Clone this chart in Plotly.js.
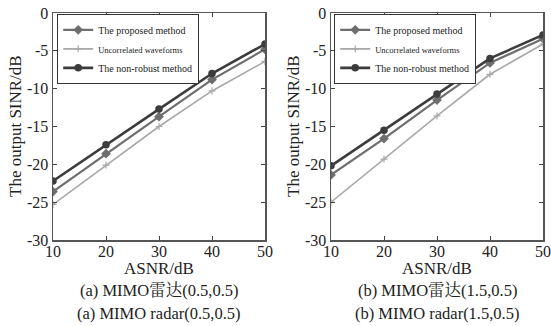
<!DOCTYPE html>
<html><head><meta charset="utf-8">
<script src="https://cdn.plot.ly/plotly-3.0.1.min.js"></script>
<style>html,body{margin:0;padding:0;background:#fff}#c{width:551px;height:326px}</style>
</head><body><div id="c"></div>
<script>
const asnr = [10, 20, 30, 40, 50];
const names = ['The proposed method', 'Uncorrelated waveforms', 'The non-robust method'];
// (a) MIMO radar (0.5,0.5)
const aProposed = [-23.6, -18.6, -13.7, -8.8, -4.8];
const aUncorr   = [-25.3, -20.1, -15.0, -10.3, -6.4];
const aNonRobust= [-22.2, -17.4, -12.7, -8.0, -4.1];
// (b) MIMO radar (1.5,0.5)
const bProposed = [-21.4, -16.6, -11.5, -6.6, -3.4];
const bUncorr   = [-25.0, -19.3, -13.6, -8.1, -4.1];
const bNonRobust= [-20.2, -15.5, -10.7, -6.0, -2.9];
const yTicks = [0, -5, -10, -15, -20, -25, -30];
const xTicks = [10, 20, 30, 40, 50];
const captionsA = ['(a) MIMO雷达(0.5,0.5)', '(a) MIMO radar(0.5,0.5)'];
const captionsB = ['(b) MIMO雷达(1.5,0.5)', '(b) MIMO radar(1.5,0.5)'];

const serif = '"Times New Roman", "Liberation Serif", Tinos, serif';
const cjk = '"Times New Roman", "Liberation Serif", "Noto Serif CJK SC", "Noto Sans CJK SC", serif';
const styles = [
  {color:'#6e6e6e', width:2.2, marker:{symbol:'diamond', size:7.5}},
  {color:'#a8a8a8', width:1.6, marker:{symbol:'cross-thin', size:5, line:{width:1.2,color:'#a8a8a8'}}},
  {color:'#3c3c3c', width:2.6, marker:{symbol:'circle', size:7.5}}
];
function mk(y, i, xa, ya, leg) {
  const s = styles[i];
  const m = Object.assign({color:s.color}, s.marker);
  let nm = names[i];
  if (i === 1) nm = '<span style="font-size:8.5px">' + nm + '</span>';
  return {x: asnr, y: y, xaxis: xa, yaxis: ya, legend: leg, name: nm, mode:'lines+markers',
    line:{color:s.color, width:s.width}, marker: m};
}
const data = [
  mk(aProposed,0,'x','y','legend'), mk(aUncorr,1,'x','y','legend'), mk(aNonRobust,2,'x','y','legend'),
  mk(bProposed,0,'x2','y2','legend2'), mk(bUncorr,1,'x2','y2','legend2'), mk(bNonRobust,2,'x2','y2','legend2')
];
function xax(dom, anchor) {
  return {domain: dom, anchor: anchor, range:[10,50], tickvals:xTicks, ticks:'inside', ticklen:4,
    showline:true, linecolor:'#555', linewidth:1.5, mirror:'ticks', showgrid:false, zeroline:false,
    tickfont:{family:serif, size:16, color:'#222'}, automargin:false, ticklabelstandoff:-4};
}
function yax(anchor) {
  return {domain:[0,1], anchor: anchor, range:[-30,0], tickvals:yTicks, ticktext:yTicks.map(String),
    ticks:'inside', ticklen:4, showline:true, linecolor:'#555', linewidth:1.5, mirror:'ticks',
    showgrid:false, zeroline:false, tickfont:{family:serif, size:16, color:'#222'}, automargin:false, ticklabelstandoff:0};
}
const lx1 = 53/551, rx1 = 265/551, lx2 = 331/551, rx2 = 543/551;
const legBase = {bgcolor:'#fff', bordercolor:'#333', borderwidth:1.2, font:{family:serif, size:10, color:'#222'},
  xanchor:'left', yanchor:'top', y:0.995, tracegroupgap:0, itemwidth:30};
const ann = [];
function addTxt(x, y, text, size, rot) {
  ann.push({xref:'paper', yref:'paper', x:x, y:y, text:text, showarrow:false, textangle:rot||0,
    font:{family:cjk, size:size, color:'#222'}, xanchor:'center', yanchor:'middle'});
}
const ypx = p => 1 - (p - 13) / 227;
addTxt((lx1+rx1)/2, ypx(268), 'ASNR/dB', 17);
addTxt((lx2+rx2)/2, ypx(268), 'ASNR/dB', 17);
addTxt((lx1+rx1)/2, ypx(290), captionsA[0], 16.5);
addTxt((lx1+rx1)/2, ypx(313), captionsA[1], 16.5);
addTxt((lx2+rx2)/2, ypx(290), captionsB[0], 16.5);
addTxt((lx2+rx2)/2, ypx(313), captionsB[1], 16.5);
addTxt(15/551, ypx(126), 'The output SINR/dB', 17, -90);
addTxt(293/551, ypx(126), 'The output SINR/dB', 17, -90);
const layout = {
  width:551, height:326, margin:{l:0, r:0, t:13, b:86},
  paper_bgcolor:'#fff', plot_bgcolor:'#fff', showlegend:true,
  xaxis: xax([lx1, rx1], 'y'), yaxis: yax('x'),
  xaxis2: xax([lx2, rx2], 'y2'), yaxis2: yax('x2'),
  legend: Object.assign({}, legBase, {x: 57/551}),
  legend2: Object.assign({}, legBase, {x: 334/551}),
  annotations: ann
};
Plotly.newPlot('c', data, layout, {displayModeBar:false, staticPlot:true});
</script></body></html>
